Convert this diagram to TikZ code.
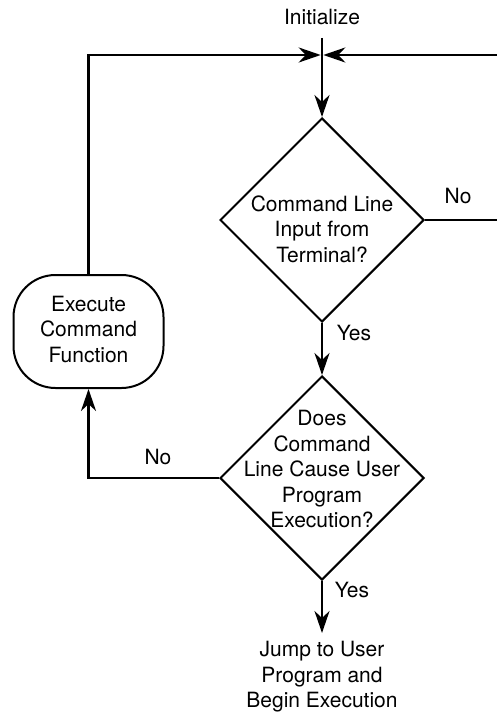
\documentclass[tikz,border=0pt]{standalone}
\usepackage{fontspec}
\setmainfont{TeX Gyre Heros}
\usetikzlibrary{shapes.geometric,arrows.meta}
\begin{document}
\begin{tikzpicture}[x=1pt,y=-1pt,
  conn/.style={line width=2.6pt},
  arr/.style={conn,-{Stealth[length=22pt,width=15pt,inset=7pt]}},
  dia/.style={draw,line width=2pt,diamond,minimum width=204pt,minimum height=204pt,inner sep=0pt},
  txt/.style={align=center,font=\fontsize{21}{25.5}\selectfont,inner sep=0pt},
  rbox/.style={draw,line width=2pt,rounded corners=42pt,minimum width=150pt,minimum height=113pt,inner sep=0pt}
]
\useasboundingbox (0,0) rectangle (497,714);

\node[txt] (init) at (322,17) {Initialize};
\coordinate (start) at (322,38);
\coordinate (jn) at (322,55);
\coordinate (rt) at (497,55);
\coordinate (rn) at (497,220);

\node[dia] (d1) at (322,220) {};
\node[txt] (t1) at (322,229) {Command Line\\Input from\\Terminal?};

\node[dia] (d2) at (322,478) {};
\node[txt] (t2) at (322,469) {Does\\Command\\Line Cause User\\Program\\Execution?};

\node[rbox] (box) at (88.5,331.5) {};
\node[txt] (tb) at (88.5,329.5) {Execute\\Command\\Function};

\node[txt] (jump) at (322,677) {Jump to User\\Program and\\Begin Execution};
\coordinate (jtop) at (322,633);

\node[txt] (no1) at (458,196) {No};
\node[txt] (yes1) at (354,333) {Yes};
\node[txt] (no2) at (158,457) {No};
\node[txt] (yes2) at (352,590) {Yes};

\draw[arr] (start) -- (d1.north);
\draw[arr,shorten >=1.3pt] (rt) -- (jn);
\draw[arr,shorten >=1.3pt] (box.north) |- (jn);
\draw[conn] (d1.east) -- (rn);
\draw[arr] (d1.south) -- (d2.north);
\draw[arr] (d2.west) -| (box.south);
\draw[arr] (d2.south) -- (jtop);
\end{tikzpicture}
\end{document}
